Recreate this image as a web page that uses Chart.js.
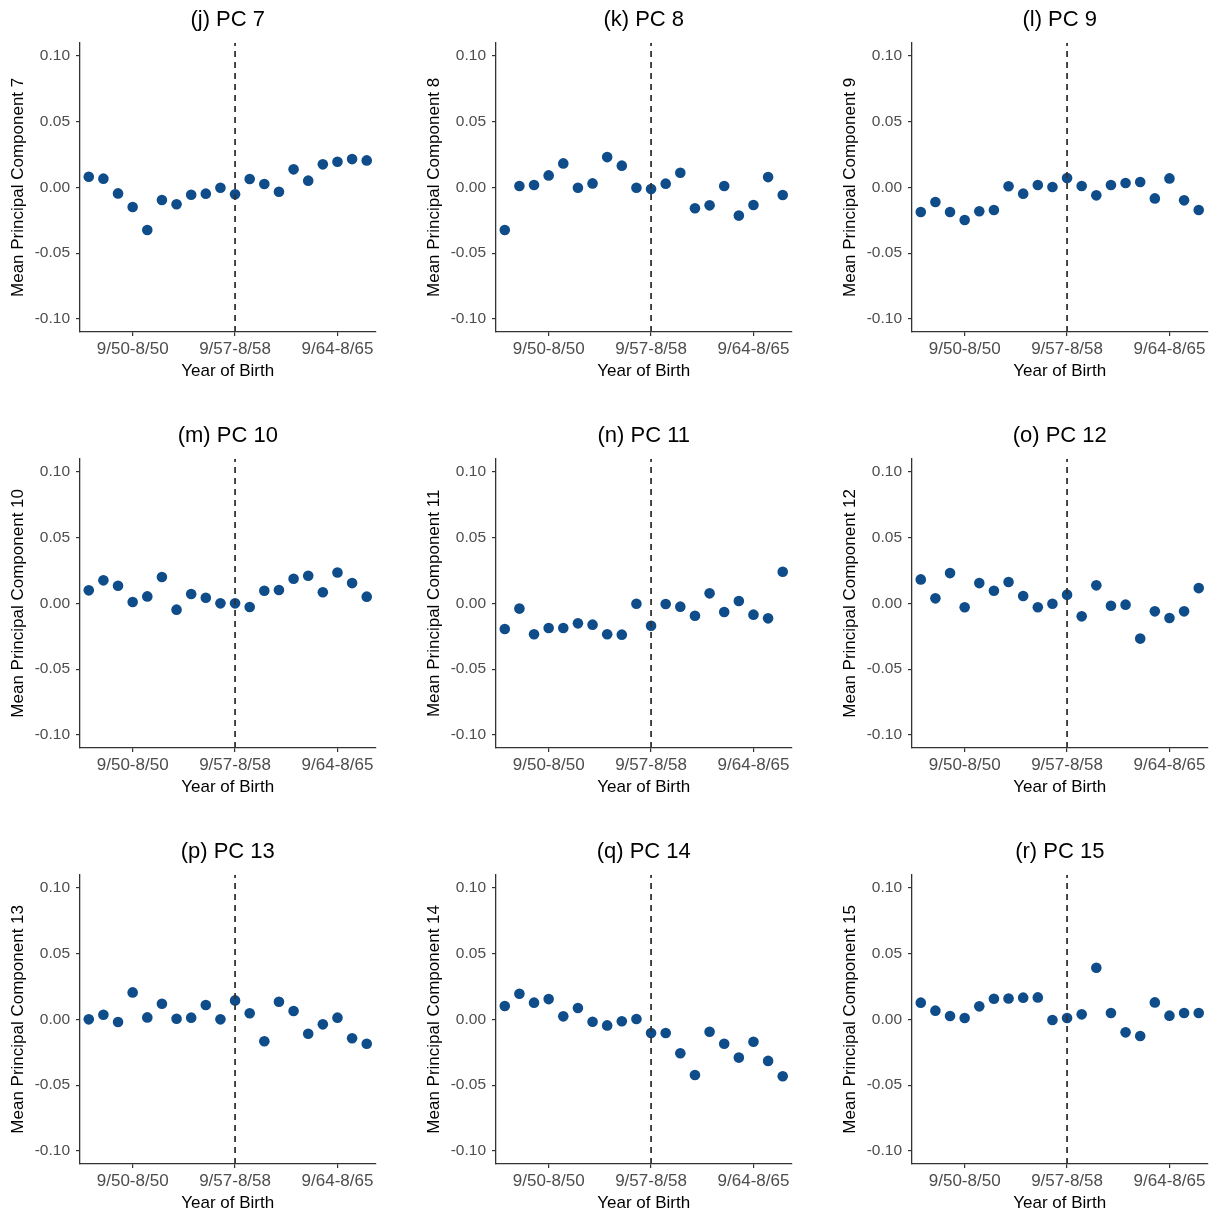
<!DOCTYPE html>
<html>
<head>
<meta charset="utf-8">
<script src="https://cdn.jsdelivr.net/npm/chart.js@4.4.1/dist/chart.umd.min.js"></script>
<style>
  html, body { margin: 0; padding: 0; background: #ffffff; overflow: hidden; }
  body { width: 1212px; height: 1213px; position: relative; }
  canvas { position: absolute; }
</style>
</head>
<body>
<script>
// ---- data ----
const cohorts = [0, 1, 2, 3, 4, 5, 6, 7, 8, 9, 10, 11, 12, 13, 14, 15, 16, 17, 18, 19];
const xTickPositions = [3, 10, 17];
const xTickLabels = ['9/50-8/50', '9/57-8/58', '9/64-8/65'];
const yTickValues = [-0.10, -0.05, 0.00, 0.05, 0.10];
const cutoffCohort = 10;

const panelTitles = ['(j) PC 7', '(k) PC 8', '(l) PC 9', '(m) PC 10', '(n) PC 11', '(o) PC 12', '(p) PC 13', '(q) PC 14', '(r) PC 15'];
const yAxisTitles = ['Mean Principal Component 7', 'Mean Principal Component 8', 'Mean Principal Component 9',
  'Mean Principal Component 10', 'Mean Principal Component 11', 'Mean Principal Component 12',
  'Mean Principal Component 13', 'Mean Principal Component 14', 'Mean Principal Component 15'];
const xAxisTitle = 'Year of Birth';

const pc7 = [0.0081, 0.0066, -0.0046, -0.0149, -0.0324, -0.0096, -0.0129, -0.0056, -0.0048, -0.0003, -0.0053, 0.0063, 0.0025, -0.0033, 0.0137, 0.0051, 0.0175, 0.0195, 0.0215, 0.0205];
const pc8 = [-0.0324, 0.0010, 0.0018, 0.0091, 0.0182, -0.0003, 0.0030, 0.0230, 0.0165, -0.0003, -0.0013, 0.0028, 0.0111, -0.0159, -0.0137, 0.0010, -0.0215, -0.0134, 0.0078, -0.0058];
const pc9 = [-0.0187, -0.0111, -0.0187, -0.0248, -0.0182, -0.0172, 0.0008, -0.0048, 0.0018, 0.0003, 0.0071, 0.0010, -0.0061, 0.0018, 0.0033, 0.0041, -0.0084, 0.0068, -0.0099, -0.0172];
const pc10 = [0.0099, 0.0175, 0.0134, 0.0010, 0.0053, 0.0200, -0.0048, 0.0071, 0.0043, 0.0000, 0.0000, -0.0028, 0.0096, 0.0101, 0.0187, 0.0210, 0.0084, 0.0235, 0.0154, 0.0051];
const pc11 = [-0.0195, -0.0040, -0.0235, -0.0187, -0.0187, -0.0152, -0.0162, -0.0235, -0.0238, -0.0003, -0.0170, -0.0005, -0.0025, -0.0094, 0.0076, -0.0066, 0.0018, -0.0086, -0.0114, 0.0240];
const pc12 = [0.0182, 0.0038, 0.0230, -0.0030, 0.0154, 0.0096, 0.0162, 0.0056, -0.0030, -0.0003, 0.0066, -0.0099, 0.0137, -0.0018, -0.0010, -0.0268, -0.0061, -0.0111, -0.0061, 0.0116];
const pc13 = [0.0000, 0.0035, -0.0020, 0.0205, 0.0015, 0.0119, 0.0005, 0.0013, 0.0109, 0.0000, 0.0144, 0.0046, -0.0167, 0.0134, 0.0063, -0.0109, -0.0038, 0.0013, -0.0144, -0.0185];
const pc14 = [0.0101, 0.0195, 0.0127, 0.0154, 0.0023, 0.0086, -0.0018, -0.0046, -0.0015, 0.0003, -0.0104, -0.0104, -0.0258, -0.0423, -0.0094, -0.0185, -0.0291, -0.0170, -0.0316, -0.0433];
const pc15 = [0.0127, 0.0066, 0.0025, 0.0010, 0.0099, 0.0157, 0.0159, 0.0165, 0.0167, -0.0005, 0.0010, 0.0038, 0.0392, 0.0048, -0.0099, -0.0127, 0.0129, 0.0028, 0.0048, 0.0048];

const panelSeries = [pc7, pc8, pc9, pc10, pc11, pc12, pc13, pc14, pc15];

// ---- layout / style ----
const CW = 384, CH = 384, STEP = 416;
const PLOT_LEFT = 80, PLOT_RIGHT = 375.5, PLOT_TOP = 42.7, PLOT_BOTTOM = 332;
const DOT = '#0E4C8A';
const AXIS = '#333333';
const TICKTXT = '#4D4D4D';
const FAMILY = '"Liberation Sans", Arial, Helvetica, sans-serif';
Chart.defaults.font.family = FAMILY;

// panel title centred over the plotting area (as in ggplot)
const panelTitlePlugin = {
  id: 'panelTitle',
  afterDraw(chart, args, opts) {
    const { ctx, chartArea } = chart;
    ctx.save();
    ctx.font = 'normal ' + opts.size + 'px ' + FAMILY;
    ctx.fillStyle = opts.color;
    ctx.textAlign = 'center';
    ctx.textBaseline = 'middle';
    ctx.fillText(opts.text, (chartArea.left + chartArea.right) / 2, opts.y);
    ctx.restore();
  }
};

panelSeries.forEach((series, i) => {
  const col = i % 3, row = Math.floor(i / 3);
  const cv = document.createElement('canvas');
  cv.width = CW; cv.height = CH;
  cv.style.left = (col * STEP) + 'px';
  cv.style.top = (row * STEP) + 'px';
  cv.style.width = CW + 'px'; cv.style.height = CH + 'px';
  document.body.appendChild(cv);

  new Chart(cv.getContext('2d'), {
    type: 'scatter',
    plugins: [panelTitlePlugin],
    data: {
      datasets: [
        {
          type: 'line',
          data: [{ x: cutoffCohort, y: -0.11 }, { x: cutoffCohort, y: 0.11 }],
          borderColor: AXIS,
          borderWidth: 1.8,
          borderDash: [6, 5],
          pointRadius: 0,
          fill: false,
          showLine: true
        },
        {
          data: cohorts.map((c, k) => ({ x: c, y: series[k] })),
          backgroundColor: DOT,
          borderColor: DOT,
          borderWidth: 0,
          pointRadius: 5.3,
          pointHoverRadius: 5.3
        }
      ]
    },
    options: {
      responsive: false,
      animation: false,
      devicePixelRatio: 1,
      events: [],
      layout: { padding: { left: 0, right: CW - PLOT_RIGHT, top: PLOT_TOP, bottom: 0 } },
      plugins: {
        legend: { display: false },
        tooltip: { enabled: false },
        title: { display: false },
        panelTitle: { text: panelTitles[i], size: 22, color: '#000000', y: 20 }
      },
      scales: {
        x: {
          type: 'linear',
          min: -0.6,
          max: 19.6,
          afterBuildTicks: (s) => { s.ticks = xTickPositions.map(v => ({ value: v })); },
          afterFit: (s) => { s.height = CH - PLOT_BOTTOM; },
          ticks: {
            autoSkip: false,
            maxRotation: 0,
            minRotation: 0,
            color: TICKTXT,
            font: { size: 17 },
            padding: 3.5,
            callback: (v) => { const k = xTickPositions.indexOf(v); return k >= 0 ? xTickLabels[k] : ''; }
          },
          grid: { drawOnChartArea: false, drawTicks: true, tickLength: 4, color: AXIS, lineWidth: 1.2 },
          border: { display: true, color: AXIS, width: 1.3 },
          title: {
            display: true,
            text: xAxisTitle,
            color: '#000000',
            font: { size: 17, lineHeight: 1.2 },
            padding: { top: 0, bottom: 2 }
          }
        },
        y: {
          type: 'linear',
          min: -0.11,
          max: 0.11,
          afterBuildTicks: (s) => { s.ticks = yTickValues.map(v => ({ value: v })); },
          afterFit: (s) => { s.width = PLOT_LEFT; },
          ticks: {
            color: TICKTXT,
            font: { size: 15.5 },
            padding: 6,
            callback: (v) => Number(v).toFixed(2)
          },
          grid: { drawOnChartArea: false, drawTicks: true, tickLength: 4, color: AXIS, lineWidth: 1.2 },
          border: { display: true, color: AXIS, width: 1.3 },
          title: {
            display: true,
            text: yAxisTitles[i],
            color: '#000000',
            font: { size: 17, lineHeight: 1.2 },
            padding: { top: 8, bottom: 0 }
          }
        }
      }
    }
  });
});
</script>
</body>
</html>
